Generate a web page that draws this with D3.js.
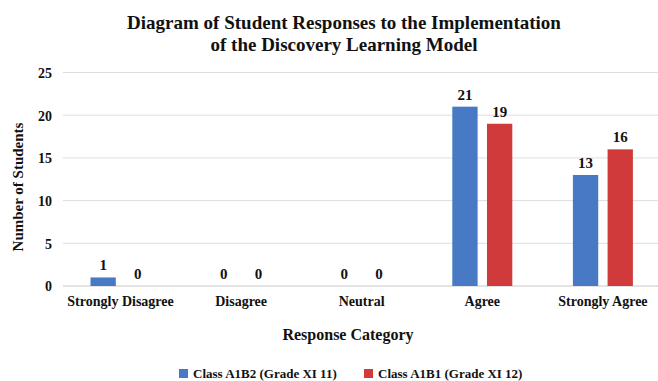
<!DOCTYPE html>
<html><head><meta charset="utf-8">
<script src="https://cdn.jsdelivr.net/npm/d3@7"></script>
</head>
<body style="margin:0;padding:0;background:#fff;"><svg id="c" width="658" height="381" style="font-family:'Liberation Serif' !important;"></svg>
<script>
const categories = ["Strongly Disagree","Disagree","Neutral","Agree","Strongly Agree"];
const seriesNames = ["Class A1B2 (Grade XI 11)","Class A1B1 (Grade XI 12)"];
const classA1B2 = [1,0,0,21,13];
const classA1B1 = [0,0,0,19,16];
const yTicks = [0,5,10,15,20,25];
const colors = ["#4779c4","#d03a3a"];

const svg = d3.select("#c");
const x = d3.scaleBand().domain(categories).range([60.2, 663.2]).padding(0);
const xs = d3.scaleBand().domain(seriesNames).range([-30, 30]).paddingInner(0.27);
const y = d3.scaleLinear().domain([0,25]).range([286, 72.5]);

function st(sel, size){
  return sel.attr("font-family","Liberation Serif")
    .style("font-family","'Liberation Serif'","important")
    .style("font-weight","bold","important")
    .style("font-size", size + "px")
    .attr("fill","#111");
}

// gridlines
svg.append("g").selectAll("line").data(yTicks).join("line")
  .attr("x1",63).attr("x2",658)
  .attr("y1",d=>y(d)).attr("y2",d=>y(d))
  .attr("stroke",d=>d===0?"#c8c8c8":"#dedede").attr("stroke-width",1);

// y axis labels
const yAxis = d3.axisLeft(y).tickValues(yTicks).tickSize(0).tickPadding(0);
const gy = svg.append("g").attr("transform","translate(52,0)").call(yAxis);
gy.select(".domain").remove();
gy.attr("font-family","Liberation Serif");
st(gy.selectAll("text"),14).attr("dy","0.35em");

// x axis labels
const xAxis = d3.axisBottom(x).tickSize(0).tickPadding(0);
const gx = svg.append("g").attr("transform","translate(0,296)").call(xAxis);
gx.select(".domain").remove();
gx.attr("font-family","Liberation Serif");
st(gx.selectAll("text"),14).attr("dy","0.71em");

const data = categories.map((c,i)=>({cat:c, vals:[classA1B2[i], classA1B1[i]]}));

const groups = svg.append("g").selectAll("g").data(data).join("g")
  .attr("transform",d=>`translate(${x(d.cat)+x.bandwidth()/2},0)`);

groups.selectAll("rect").data(d=>d.vals.map((v,j)=>({s:seriesNames[j],v,j}))).join("rect")
  .attr("x",d=>xs(d.s)).attr("width",xs.bandwidth())
  .attr("y",d=>y(d.v)).attr("height",d=>y(0)-y(d.v))
  .attr("fill",d=>colors[d.j]);

st(groups.selectAll("text.val").data(d=>d.vals.map((v,j)=>({s:seriesNames[j],v,j}))).join("text")
  .attr("class","val")
  .attr("x",d=>xs(d.s)+xs.bandwidth()/2)
  .attr("y",d=>y(d.v)-7)
  .attr("text-anchor","middle"),15)
  .text(d=>d.v);

// title
const title = st(svg.append("text").attr("x",344).attr("text-anchor","middle"),19);
title.append("tspan").attr("x",344).attr("y",29).text("Diagram of Student Responses to the Implementation");
title.append("tspan").attr("x",344).attr("y",51).text("of the Discovery Learning Model");

// axis titles
st(svg.append("text").attr("transform","translate(23,187) rotate(-90)").attr("text-anchor","middle"),15)
  .text("Number of Students");
st(svg.append("text").attr("x",348).attr("y",340).attr("text-anchor","middle"),16)
  .text("Response Category");

// legend
const legX = [179, 364];
const leg = svg.append("g").selectAll("g").data(seriesNames).join("g")
  .attr("transform",(d,i)=>`translate(${legX[i]},369)`);
leg.append("rect").attr("width",9).attr("height",9).attr("fill",(d,i)=>colors[i]);
st(leg.append("text").attr("x",14).attr("y",9),13).text(d=>d);
</script></body></html>
